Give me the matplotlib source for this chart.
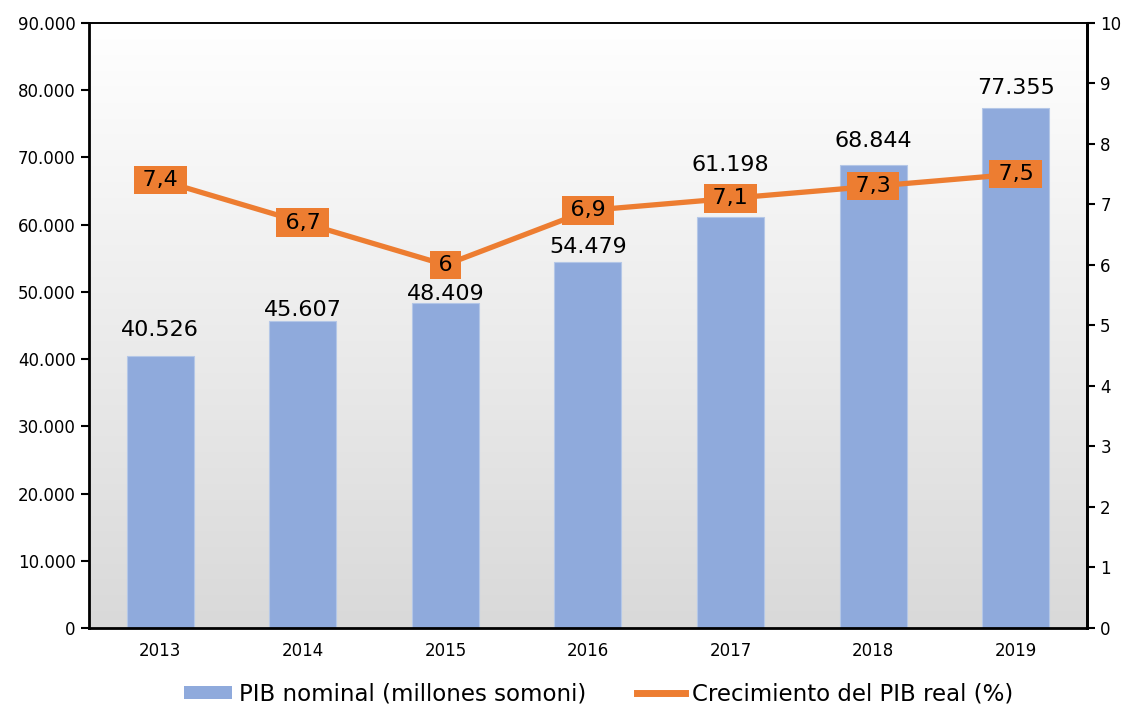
import numpy as np
import matplotlib
matplotlib.use("Agg")
import matplotlib.pyplot as plt
from matplotlib.patches import Patch
from matplotlib.lines import Line2D
from matplotlib.ticker import FuncFormatter, MultipleLocator

years = ["2013", "2014", "2015", "2016", "2017", "2018", "2019"]
pib_nominal = [40526, 45607, 48409, 54479, 61198, 68844, 77355]
crecimiento = [7.4, 6.7, 6.0, 6.9, 7.1, 7.3, 7.5]

# gap (points) between bar top and label baseline, as placed in the original
label_gap = [14, 4, 2, 6, 33, 13, 10]

bar_color = "#8FAADC"
line_color = "#ED7D31"

plt.rcParams["font.family"] = ["DejaVu Sans"]

fig = plt.figure(figsize=(11.29, 7.04), dpi=100)
ax = fig.add_axes([0.0788, 0.108, 0.884, 0.8595])

# vertical grey gradient inside plot area
grad = np.linspace(1.0, 0.0, 256).reshape(-1, 1)
ax.imshow(grad, extent=[0, 1, 0, 1], transform=ax.transAxes, aspect="auto",
          cmap=matplotlib.colors.LinearSegmentedColormap.from_list("g", ["#D9D9D9", "#FFFFFF"]),
          zorder=0)

x = np.arange(len(years))
ax.bar(x, pib_nominal, width=0.47, color=bar_color, edgecolor="#B4C7E7",
       linewidth=0.8, zorder=2)
for xi, v, g in zip(x, pib_nominal, label_gap):
    ax.annotate(f"{v:,}".replace(",", "."), (xi, v), xytext=(0, g),
                textcoords="offset points", ha="center", va="baseline",
                fontsize=16, zorder=5)

ax.set_xlim(-0.5, len(years) - 0.5)
ax.set_ylim(0, 90000)
ax.yaxis.set_major_locator(MultipleLocator(10000))
ax.yaxis.set_major_formatter(FuncFormatter(lambda v, p: f"{v:,.0f}".replace(",", ".")))
ax.set_xticks(x)
ax.set_xticklabels(years)
ax.tick_params(axis="x", length=0, pad=10, labelsize=12)
ax.tick_params(axis="y", length=6, width=1.5, labelsize=12, direction="out")

for s in ["left", "bottom"]:
    ax.spines[s].set_linewidth(2)
    ax.spines[s].set_color("black")
ax.spines["top"].set_linewidth(1.2)
ax.spines["right"].set_linewidth(2)

ax2 = ax.twinx()
ax2.plot(x, crecimiento, color=line_color, linewidth=3.8, zorder=3,
         solid_capstyle="round")
for xi, v in zip(x, crecimiento):
    txt = f"{v:g}".replace(".", ",")
    ax2.text(xi, v, f"\u2009{txt}\u2009", ha="center", va="center", fontsize=16, zorder=6,
             bbox=dict(boxstyle="square,pad=0.19", fc=line_color, ec="none"))
ax2.set_ylim(0, 10)
ax2.yaxis.set_major_locator(MultipleLocator(1))
ax2.tick_params(axis="y", length=6, width=1.5, labelsize=12, direction="out")
ax2.spines["right"].set_linewidth(2)
ax2.spines["top"].set_linewidth(1.2)
ax2.spines["left"].set_visible(False)
ax2.spines["bottom"].set_visible(False)

handles = [Patch(facecolor=bar_color, edgecolor="none"),
           Line2D([0], [0], color=line_color, linewidth=5)]
fig.legend(handles, ["PIB nominal (millones somoni)", "Crecimiento del PIB real (%)"],
           loc="center", bbox_to_anchor=(0.53, 0.014), ncol=2, frameon=False,
           fontsize=16.5, handlelength=2.1, handleheight=0.55, handletextpad=0.3,
           columnspacing=2.2)

fig.savefig("out.png", dpi=100)
